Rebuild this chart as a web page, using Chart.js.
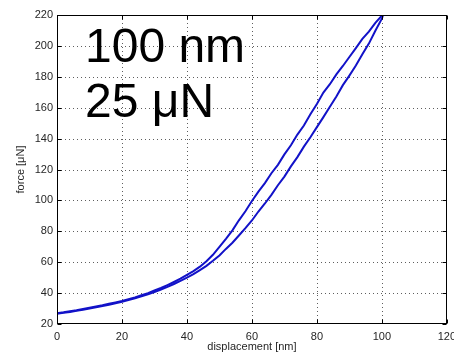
<!DOCTYPE html>
<html>
<head>
<meta charset="utf-8">
<title>force vs displacement</title>
<script src="https://cdn.jsdelivr.net/npm/chart.js@4/dist/chart.umd.min.js"></script>
<style>
  html, body { margin: 0; padding: 0; background: #fff; overflow: hidden; }
  #wrap { position: relative; width: 462px; height: 356px; }
</style>
</head>
<body>
<div id="wrap"><canvas id="plot" width="462" height="356"></canvas></div>
<script>
// Indentation loop: displacement [nm] against force [µN], two branches.
const xTickValues = [0, 20, 40, 60, 80, 100, 120];
const yTickValues = [20, 40, 60, 80, 100, 120, 140, 160, 180, 200, 220];

const upperDisp = [0, 2, 4, 6, 8, 10, 12, 14, 16, 18, 20, 22, 24, 26, 28, 30, 32, 34, 36, 38,
  40, 42, 44, 46, 48, 50, 52, 54, 56, 58, 60, 62, 64, 66, 68, 70, 72, 74, 76, 78,
  80, 82, 84, 86, 88, 90, 92, 94, 96, 98, 100, 100.8];
const upperForce = [27.0, 27.6, 28.3, 28.9, 29.7, 30.5, 31.3, 32.1, 33.1, 34.0, 34.9, 36.1, 37.2, 38.6, 40.0, 41.7, 43.3, 45.2, 47.2, 49.3,
  51.8, 54.2, 57.1, 60.6, 64.8, 69.9, 75.1, 80.6, 87.1, 93.0, 99.6, 105.7, 111.2, 117.6, 123.0, 129.8, 135.7, 142.6, 148.5, 155.8,
  162.4, 169.8, 175.2, 181.6, 187.0, 192.8, 198.6, 204.5, 209.2, 214.9, 219.6, 222.0];

const lowerDisp = [0, 2, 4, 6, 8, 10, 12, 14, 16, 18, 20, 22, 24, 26, 28, 30, 32, 34, 36, 38,
  40, 42, 44, 46, 48, 50, 52, 54, 56, 58, 60, 62, 64, 66, 68, 70, 72, 74, 76, 78,
  80, 82, 84, 86, 88, 90, 92, 94, 96, 98, 100, 100.7];
const lowerForce = [26.6, 27.2, 27.8, 28.5, 29.2, 30.0, 30.8, 31.7, 32.5, 33.4, 34.4, 35.5, 36.6, 37.9, 39.2, 40.7, 42.3, 44.0, 45.9, 47.9,
  50.0, 52.3, 54.9, 57.6, 60.9, 64.4, 68.6, 72.6, 77.3, 82.0, 87.0, 92.8, 98.0, 103.6, 109.8, 115.4, 122.0, 128.0, 134.8, 140.9,
  147.4, 153.9, 160.6, 167.3, 174.6, 180.8, 187.3, 194.6, 201.5, 209.8, 217.6, 222.0];

const notes = ['100 nm', '25 μN'];

const FONT = '"Liberation Sans", Arial, Helvetica, sans-serif';
const LINE_BLUE = '#1212c8';

function toPoints(xs, ys) {
  return xs.map((x, i) => ({ x: x, y: ys[i] }));
}

// Dotted grid, full box with inward tick marks, and the two big notes.
const boxAndGrid = {
  id: 'boxAndGrid',
  beforeDatasetsDraw(chart) {
    const { ctx, chartArea: a, scales: { x, y } } = chart;
    ctx.save();
    ctx.strokeStyle = 'rgba(40,40,40,0.75)';
    ctx.lineWidth = 1;
    ctx.setLineDash([1, 3]);
    xTickValues.forEach(v => {
      const px = Math.round(x.getPixelForValue(v)) + 0.5;
      if (px <= a.left + 1 || px >= a.right - 1) return;
      ctx.beginPath(); ctx.moveTo(px, a.top); ctx.lineTo(px, a.bottom); ctx.stroke();
    });
    yTickValues.forEach(v => {
      const py = Math.round(y.getPixelForValue(v)) + 0.5;
      if (py <= a.top + 1 || py >= a.bottom - 1) return;
      ctx.beginPath(); ctx.moveTo(a.left, py); ctx.lineTo(a.right, py); ctx.stroke();
    });
    ctx.restore();
  },
  afterDatasetsDraw(chart) {
    const { ctx, chartArea: a, scales: { x, y } } = chart;
    const L = Math.round(a.left) + 0.5, R = Math.round(a.right) - 0.5;
    const T = Math.round(a.top) + 0.5, B = Math.round(a.bottom) - 0.5;
    ctx.save();
    ctx.setLineDash([]);
    ctx.strokeStyle = '#000';
    ctx.lineWidth = 1;
    ctx.strokeRect(L, T, R - L, B - T);
    const tl = 4;
    ctx.beginPath();
    xTickValues.forEach(v => {
      const px = Math.round(x.getPixelForValue(v)) + 0.5;
      ctx.moveTo(px, B); ctx.lineTo(px, B - tl);
      ctx.moveTo(px, T); ctx.lineTo(px, T + tl);
    });
    yTickValues.forEach(v => {
      const py = Math.round(y.getPixelForValue(v)) + 0.5;
      ctx.moveTo(L, py); ctx.lineTo(L + tl, py);
      ctx.moveTo(R, py); ctx.lineTo(R - tl, py);
    });
    ctx.stroke();

    ctx.fillStyle = '#000';
    ctx.font = '48px ' + FONT;
    ctx.textAlign = 'left';
    ctx.textBaseline = 'alphabetic';
    ctx.fillText(notes[0], a.left + 28, a.top + 47);
    ctx.fillText(notes[1], a.left + 28, a.top + 102);
    ctx.restore();
  }
};

new Chart(document.getElementById('plot'), {
  type: 'scatter',
  data: {
    datasets: [
      {
        label: 'upper branch',
        data: toPoints(upperDisp, upperForce),
        showLine: true,
        borderColor: LINE_BLUE,
        borderWidth: 2,
        pointRadius: 0,
        tension: 0,
        fill: false
      },
      {
        label: 'lower branch',
        data: toPoints(lowerDisp, lowerForce),
        showLine: true,
        borderColor: LINE_BLUE,
        borderWidth: 2,
        pointRadius: 0,
        tension: 0,
        fill: false
      }
    ]
  },
  options: {
    responsive: false,
    animation: false,
    devicePixelRatio: 1,
    layout: { padding: { top: 15, right: 0, bottom: 0, left: 0 } },
    plugins: {
      legend: { display: false },
      tooltip: { enabled: false }
    },
    scales: {
      x: {
        type: 'linear',
        min: 0,
        max: 120,
        afterBuildTicks: s => { s.ticks = xTickValues.map(v => ({ value: v })); },
        afterFit: s => { s.height = 32; },
        grid: { display: false, drawTicks: false },
        border: { display: false },
        ticks: {
          color: '#262626',
          font: { family: FONT, size: 11 },
          padding: 6,
          maxRotation: 0,
          autoSkip: false
        },
        title: {
          display: true,
          text: 'displacement [nm]',
          color: '#262626',
          font: { family: FONT, size: 11 },
          padding: { top: 0, bottom: 2 }
        }
      },
      y: {
        type: 'linear',
        min: 20,
        max: 220,
        afterBuildTicks: s => { s.ticks = yTickValues.map(v => ({ value: v })); },
        afterFit: s => { s.width = 57; },
        grid: { display: false, drawTicks: false },
        border: { display: false },
        ticks: {
          color: '#262626',
          font: { family: FONT, size: 11 },
          padding: 4,
          autoSkip: false
        },
        title: {
          display: true,
          text: 'force [μN]',
          color: '#262626',
          font: { family: FONT, size: 11 },
          padding: { top: 14, bottom: 0 }
        }
      }
    }
  },
  plugins: [boxAndGrid]
});
</script>
</body>
</html>
